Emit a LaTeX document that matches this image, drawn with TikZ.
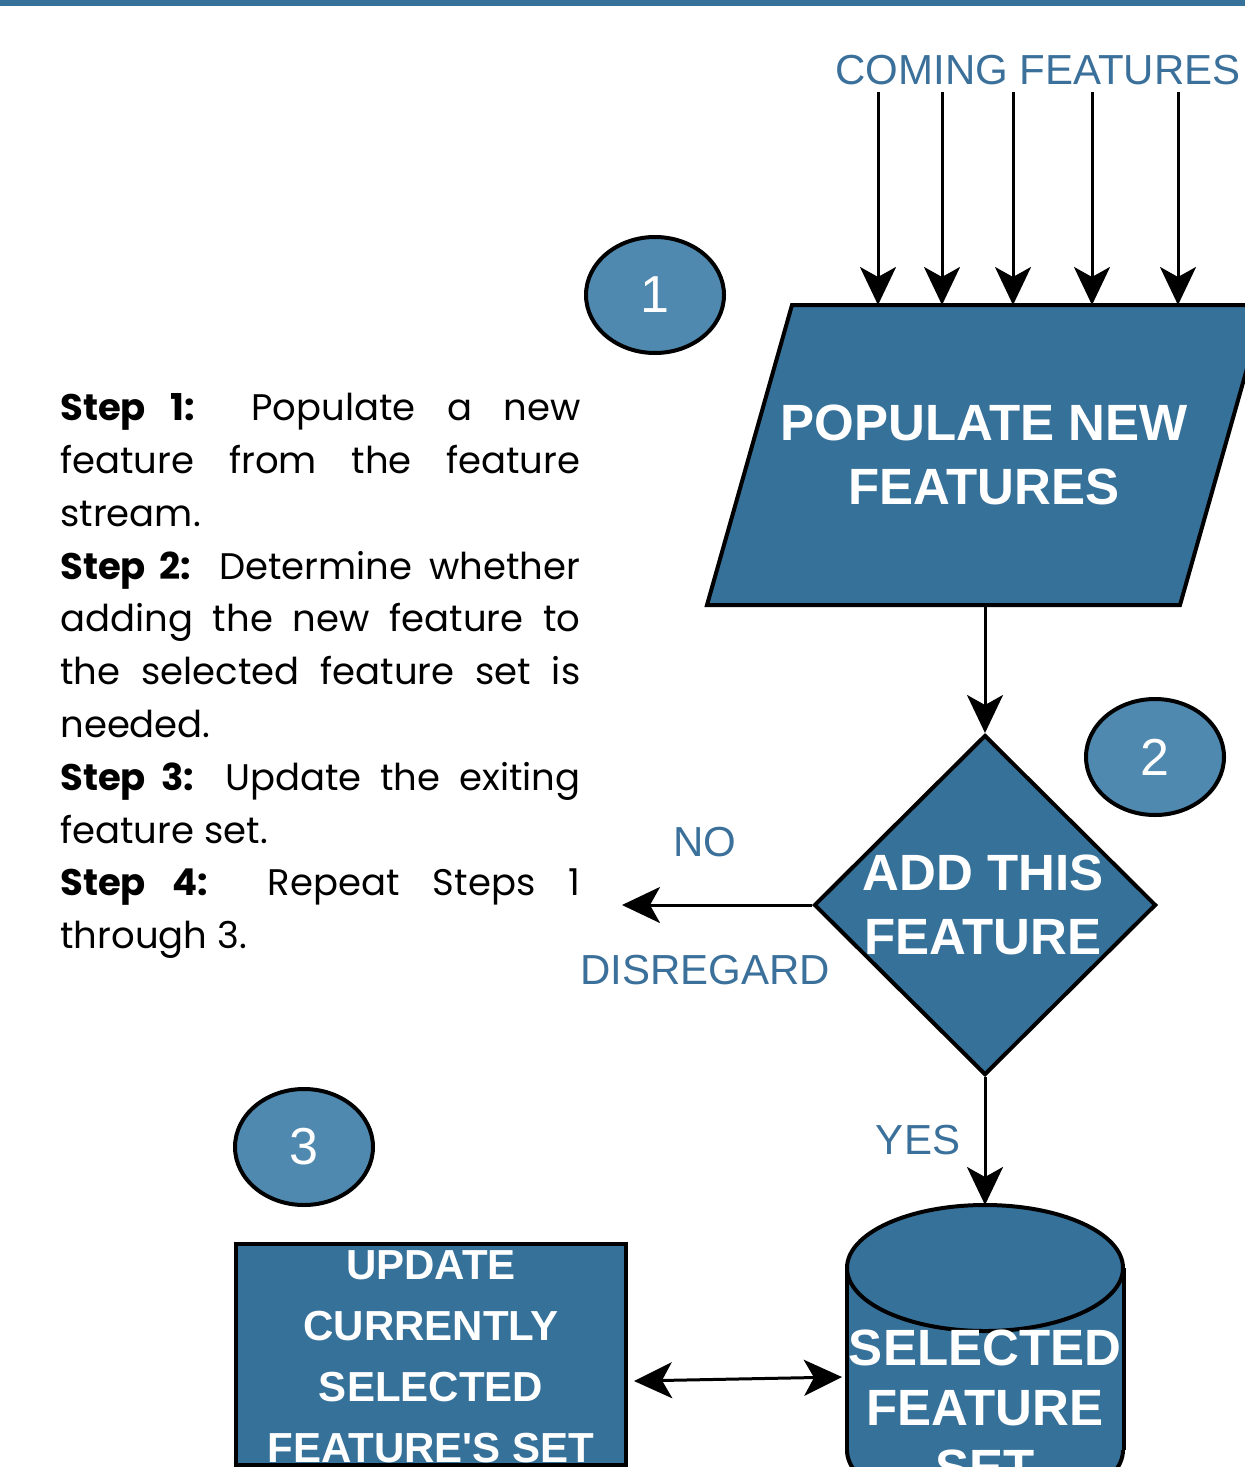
\documentclass[tikz,border=0pt]{standalone}
\usepackage{fontspec}
\setmainfont{Liberation Sans}[Ligatures=TeXOff]
\newfontfamily\stepfont{Poppins}
\usetikzlibrary{shapes.geometric,arrows.meta,positioning}

\definecolor{flowblue}{HTML}{36719A}
\definecolor{stepblue}{HTML}{4F89AF}
\definecolor{labelblue}{HTML}{3A709A}

\tikzset{
  box/.style={fill=flowblue, draw=black, line width=2pt},
  boxtext/.style={text=white, font=\bfseries\fontsize{25.5}{32}\selectfont, align=center, inner sep=0pt},
  num/.style={ellipse, fill=stepblue, draw=black, line width=2pt, minimum width=69pt, minimum height=58pt, inner sep=0pt, text=white, font=\fontsize{26}{30}\selectfont},
  lbl/.style={text=labelblue, font=\fontsize{21}{24}\selectfont, inner sep=0pt},
  arr/.style={line width=1.5pt, >={Stealth[length=19pt,width=18pt,inset=5pt]}, ->},
  dbl/.style={line width=1.5pt, >={Stealth[length=19pt,width=18pt,inset=5pt]}, <->}
}

\begin{document}
\begin{tikzpicture}[x=0.5pt, y=-0.5pt]
\useasboundingbox (0,0) rectangle (1245,1467);
\clip (0,0) rectangle (1245,1467);
\fill[flowblue] (0,0) rectangle (1245,6);

% steps
\node[anchor=north west, inner sep=0pt, text width=260pt, align=justify,
  font=\stepfont\fontsize{18.5}{26.4}\selectfont] (steps) at (60,393)
  {\parindent=0pt
   \textbf{Step 1:} Populate a new\linebreak feature from the feature\linebreak stream.\par
   \textbf{Step 2:} Determine whether\linebreak adding the new feature to\linebreak the selected feature set is\linebreak needed.\par
   \textbf{Step 3:} Update the exiting\linebreak feature set.\par
   \textbf{Step 4:} Repeat Steps 1\linebreak through 3.};

% incoming stream
\node[lbl] (cf) at (1038,70) {COMING FEATURES};
\foreach \x in {878,942,1013,1092,1178}
  \draw[arr] (\x,92) -- (\x,305);

% step 1
\node[num] (c1) at (655,295) {1};
\filldraw[box] (792,305) -- (1265,305) -- (1180,605) -- (707,605) -- cycle;
\coordinate (pop-s) at (985,605);
\node[boxtext] (pop) at (984,455) {POPULATE NEW\\FEATURES};

% step 2
\node[num] (c2) at (1155,757) {2};
\node[box, diamond, minimum width=171pt, minimum height=170pt, inner sep=0pt] (add) at (985,905) {};
\node[boxtext] (addtxt) at (983,905) {ADD THIS\\FEATURE};
\draw[arr] (pop-s) -- (add.north);

\coordinate (dis) at (622,905);
\draw[arr] (add.west) -- (dis);
\node[lbl] (no) at (705,842) {NO};
\node[lbl] (disreg) at (705,970) {DISREGARD};

% selected set
\filldraw[box] (985,1450) ellipse [x radius=138, y radius=63];
\fill[flowblue] (847,1268) rectangle (1124,1450);
\draw[line width=2pt] (847,1268) -- (847,1450) (1124,1268) -- (1124,1450);
\filldraw[box] (985,1268) ellipse [x radius=138, y radius=63];
\coordinate (sel-n) at (985,1205);
\coordinate (sel-w) at (842,1377);
\node[boxtext, font=\bfseries\fontsize{25.5}{30}\selectfont] (sel) at (985,1408) {SELECTED\\FEATURE\\SET};

\draw[arr] (add.south) -- (sel-n);
\node[lbl] (yes) at (918,1140) {YES};

% step 3
\node[num] (c3) at (304,1147) {3};
\node[box, rectangle, minimum width=195pt, minimum height=110.5pt, inner sep=0pt] (upd) at (431,1354.5) {};
\node[boxtext, font=\bfseries\fontsize{21}{30.5}\selectfont] (updtxt) at (431,1357)
  {UPDATE\\CURRENTLY\\SELECTED\\FEATURE'S SET};
\draw[dbl] ([shift={(6,26.5)}]upd.east) -- (sel-w);
\end{tikzpicture}
\end{document}
